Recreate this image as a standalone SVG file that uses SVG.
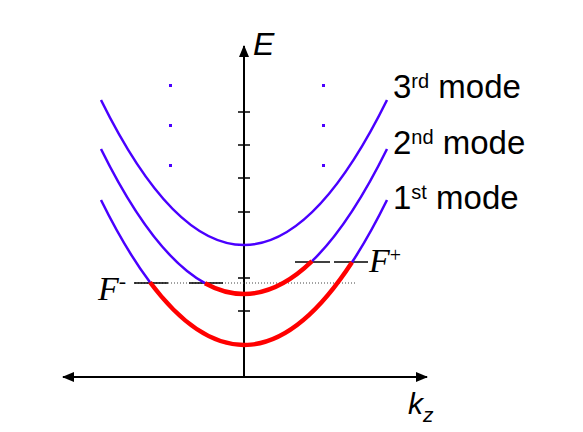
<svg xmlns="http://www.w3.org/2000/svg" width="583" height="432" viewBox="0 0 583 432">
<defs>
<style>
.ax{stroke:#000;stroke-width:2;fill:none}
.tick{stroke:#000;stroke-width:1.5}
.blue{stroke:#4a00ff;stroke-width:2.5;fill:none}
.red{stroke:#ff0000;stroke-width:4.4;fill:none}
.fl{stroke:#000;stroke-width:1.4}
.dot{fill:#4a00ff}
.sans{font-family:"Liberation Sans",Arial,sans-serif;fill:#000}
.serif{font-family:"Liberation Serif","Times New Roman",serif;font-style:italic;fill:#000}
</style>
<marker id="arr" viewBox="0 0 12 10" refX="11" refY="5" markerWidth="12" markerHeight="10" markerUnits="userSpaceOnUse" orient="auto-start-reverse">
<path d="M0,0 L12,5 L0,10 Z" fill="#000"/>
</marker>
</defs>
<rect width="583" height="432" fill="#fff"/>
<g id="axes">
<line class="ax" x1="244" y1="377" x2="244" y2="46" marker-end="url(#arr)"/>
<line class="ax" x1="63" y1="377" x2="427" y2="377" marker-start="url(#arr)" marker-end="url(#arr)"/>
<g id="ticks">
<line class="tick" x1="238" y1="112" x2="250" y2="112"/>
<line class="tick" x1="238" y1="145" x2="250" y2="145"/>
<line class="tick" x1="238" y1="178" x2="250" y2="178"/>
<line class="tick" x1="238" y1="212" x2="250" y2="212"/>
<line class="tick" x1="238" y1="245" x2="250" y2="245"/>
<line class="tick" x1="238" y1="278" x2="250" y2="278"/>
<line class="tick" x1="238" y1="311" x2="250" y2="311"/>
</g>
</g>
<g id="fermi">
<line x1="135" y1="283" x2="355" y2="283" stroke="#444" stroke-width="1" stroke-dasharray="1,2"/>
<line class="fl" x1="134" y1="283" x2="168" y2="283"/>
<line class="fl" x1="189" y1="283" x2="223" y2="283"/>
<line class="fl" x1="295" y1="262" x2="330" y2="262"/>
<line class="fl" x1="334" y1="262" x2="368" y2="262"/>
</g>
<g id="mode3">
<path class="blue" d="M101,100 Q244,390 387,100"/>
</g>
<g id="mode2">
<path class="blue" d="M101,149 Q153,254.5 205,283.2"/>
<path class="blue" d="M312,261.2 Q349.5,225 387,149"/>
<path class="red" d="M205,283.2 Q258.5,312.8 312,261.2"/>
</g>
<g id="mode1">
<path class="blue" d="M101,200 Q125.5,249.7 150,282.3"/>
<path class="blue" d="M352,262.3 Q369.5,235.5 387,200"/>
<path class="red" d="M150,282.3 Q251,417 352,262.3"/>
</g>
<g id="dots">
<rect class="dot" x="169" y="84" width="3" height="3"/>
<rect class="dot" x="169" y="124" width="3" height="3"/>
<rect class="dot" x="169" y="164" width="3" height="3"/>
<rect class="dot" x="322" y="84" width="3" height="3"/>
<rect class="dot" x="322" y="124" width="3" height="3"/>
<rect class="dot" x="322" y="164" width="3" height="3"/>
</g>
<g id="labels">
<text class="sans" x="393" y="98" font-size="33">3<tspan font-size="20" dy="-10">rd</tspan><tspan dy="10"> mode</tspan></text>
<text class="sans" x="393" y="154" font-size="33">2<tspan font-size="20" dy="-10">nd</tspan><tspan dy="10"> mode</tspan></text>
<text class="sans" x="393" y="209" font-size="33">1<tspan font-size="20" dy="-10">st</tspan><tspan dy="10"> mode</tspan></text>
<text class="sans" x="253" y="55" font-size="32" font-style="italic">E</text>
<text class="sans" x="408" y="414" font-size="30" font-style="italic">k<tspan font-size="21" dy="8">z</tspan></text>
<text class="serif" x="98" y="300" font-size="34">F<tspan font-size="22" dy="-12" font-style="normal">-</tspan></text>
<text class="serif" x="369" y="272" font-size="34">F<tspan font-size="20" dy="-10" font-style="normal">+</tspan></text>
</g>
</svg>
